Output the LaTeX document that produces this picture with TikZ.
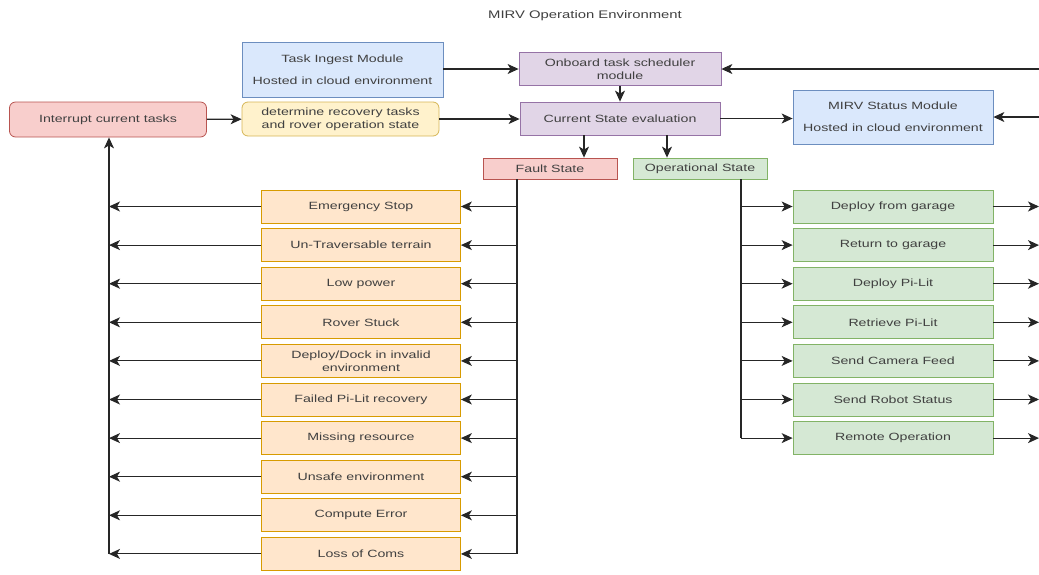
\documentclass[tikz,border=0pt]{standalone}
\usepackage{fontspec}
\setmainfont{Liberation Sans}[FakeStretch=1.35]
\usepackage{tikz}
\usetikzlibrary{arrows.meta}

\definecolor{bluefill}{HTML}{DAE8FC}
\definecolor{blueline}{HTML}{6C8EBF}
\definecolor{redfill}{HTML}{F8CECC}
\definecolor{redline}{HTML}{B85450}
\definecolor{yellowfill}{HTML}{FFF2CC}
\definecolor{yellowline}{HTML}{D6B656}
\definecolor{purplefill}{HTML}{E1D5E7}
\definecolor{purpleline}{HTML}{9673A6}
\definecolor{orangefill}{HTML}{FFE6CC}
\definecolor{orangeline}{HTML}{D79B00}
\definecolor{greenfill}{HTML}{D5E8D4}
\definecolor{greenline}{HTML}{82B366}

\begin{document}
\begin{tikzpicture}[x=1pt,y=-1pt]
\tikzstyle{every node}+=[inner sep=0pt, text=black!75, align=center, font=\fontsize{10.5}{13}\selectfont]
\tikzstyle{box}=[draw, line width=0.8pt, minimum width=200pt, minimum height=33pt]
\tikzstyle{faultbox}=[box, fill=orangefill, draw=orangeline, minimum width=199pt]
\tikzstyle{operbox}=[box, fill=greenfill, draw=greenline]
\tikzstyle{arrowline}=[black!85, line width=1.1pt, -{Stealth[length=11pt,width=10pt,inset=3pt]}]
\useasboundingbox (0,0) rectangle (1039,574);

\node[font=\fontsize{11}{13}\selectfont] (title) at (585,16) {MIRV Operation Environment};

\node[box, fill=bluefill, draw=blueline, minimum width=201pt, minimum height=55pt] (ingest) at (342.5,69.5) {Task Ingest Module\\[9pt]Hosted in cloud environment};
\node[box, rounded corners=6pt, fill=redfill, draw=redline, minimum width=197pt, minimum height=35pt] (interrupt) at (108,119.5) {Interrupt current tasks};
\node[box, rounded corners=6pt, fill=yellowfill, draw=yellowline, minimum width=197pt, minimum height=34pt] (recover) at (340.5,119) {determine recovery tasks\\and rover operation state};
\node[box, fill=purplefill, draw=purpleline, minimum width=202pt] (sched) at (620,69) {Onboard task scheduler\\module};
\node[box, fill=purplefill, draw=purpleline] (current) at (620,118.5) {Current State evaluation};
\node[box, fill=bluefill, draw=blueline, minimum height=54pt] (status) at (893,117) {MIRV Status Module\\[9pt]Hosted in cloud environment};
\node[box, fill=redfill, draw=redline, minimum width=134pt, minimum height=21pt] (faultst) at (550,168.5) {Fault State};
\node[box, fill=greenfill, draw=greenline, minimum width=134pt, minimum height=21pt] (operst) at (700,168.5) {Operational State};

\node[faultbox] (estop) at (361,206.5) {Emergency Stop};
\node[faultbox] (terrain) at (361,245.1) {Un-Traversable terrain};
\node[faultbox] (power) at (361,283.7) {Low power};
\node[faultbox] (stuck) at (361,322.3) {Rover Stuck};
\node[faultbox] (dock) at (361,360.9) {Deploy/Dock in invalid\\environment};
\node[faultbox] (pilitfail) at (361,399.5) {Failed Pi-Lit recovery};
\node[faultbox] (missing) at (361,438.1) {Missing resource};
\node[faultbox] (unsafe) at (361,476.7) {Unsafe environment};
\node[faultbox] (compute) at (361,515.3) {Compute Error};
\node[faultbox] (coms) at (361,553.9) {Loss of Coms};

\node[operbox] (deploy) at (893,206.5) {Deploy from garage};
\node[operbox] (return) at (893,245.1) {Return to garage};
\node[operbox] (pilitout) at (893,283.7) {Deploy Pi-Lit};
\node[operbox] (pilitin) at (893,322.3) {Retrieve Pi-Lit};
\node[operbox] (camera) at (893,360.9) {Send Camera Feed};
\node[operbox] (robot) at (893,399.5) {Send Robot Status};
\node[operbox] (remote) at (893,438.1) {Remote Operation};

\coordinate (lbus) at (109,0);
\coordinate (fbus) at (517,0);
\coordinate (obus) at (741,0);
\coordinate (redge) at (1039,0);

\draw[arrowline] (ingest.east |- sched) -- (sched.west);
\draw[arrowline] (interrupt) -- (recover);
\draw[arrowline] (recover) -- (current.west |- recover);
\draw[arrowline] (sched) -- (current);
\draw[arrowline] (current) -- (status.west |- current);
\draw[arrowline] (redge |- sched) -- (sched.east);
\draw[arrowline] (redge |- status) -- (status.east);
\draw[arrowline] ([xshift=-36pt]current.south) -- ([xshift=34pt]faultst.north);
\draw[arrowline] ([xshift=47pt]current.south) -- ([xshift=-33pt]operst.north);

\draw[black!85, line width=1.1pt] (fbus |- faultst.south) -- (fbus |- coms);
\draw[arrowline] (fbus |- estop) -- (estop.east);
\draw[arrowline] (fbus |- terrain) -- (terrain.east);
\draw[arrowline] (fbus |- power) -- (power.east);
\draw[arrowline] (fbus |- stuck) -- (stuck.east);
\draw[arrowline] (fbus |- dock) -- (dock.east);
\draw[arrowline] (fbus |- pilitfail) -- (pilitfail.east);
\draw[arrowline] (fbus |- missing) -- (missing.east);
\draw[arrowline] (fbus |- unsafe) -- (unsafe.east);
\draw[arrowline] (fbus |- compute) -- (compute.east);
\draw[arrowline] (fbus |- coms) -- (coms.east);

\draw[arrowline] (lbus |- coms) -- (lbus |- interrupt.south);
\draw[arrowline] (estop) -- (lbus |- estop);
\draw[arrowline] (terrain) -- (lbus |- terrain);
\draw[arrowline] (power) -- (lbus |- power);
\draw[arrowline] (stuck) -- (lbus |- stuck);
\draw[arrowline] (dock) -- (lbus |- dock);
\draw[arrowline] (pilitfail) -- (lbus |- pilitfail);
\draw[arrowline] (missing) -- (lbus |- missing);
\draw[arrowline] (unsafe) -- (lbus |- unsafe);
\draw[arrowline] (compute) -- (lbus |- compute);
\draw[arrowline] (coms) -- (lbus |- coms);

\draw[black!85, line width=1.1pt] (obus |- operst.south) -- (obus |- remote);
\draw[arrowline] (obus |- deploy) -- (deploy.west);
\draw[arrowline] (obus |- return) -- (return.west);
\draw[arrowline] (obus |- pilitout) -- (pilitout.west);
\draw[arrowline] (obus |- pilitin) -- (pilitin.west);
\draw[arrowline] (obus |- camera) -- (camera.west);
\draw[arrowline] (obus |- robot) -- (robot.west);
\draw[arrowline] (obus |- remote) -- (remote.west);

\draw[arrowline] (deploy) -- (redge |- deploy);
\draw[arrowline] (return) -- (redge |- return);
\draw[arrowline] (pilitout) -- (redge |- pilitout);
\draw[arrowline] (pilitin) -- (redge |- pilitin);
\draw[arrowline] (camera) -- (redge |- camera);
\draw[arrowline] (robot) -- (redge |- robot);
\draw[arrowline] (remote) -- (redge |- remote);
\end{tikzpicture}
\end{document}
